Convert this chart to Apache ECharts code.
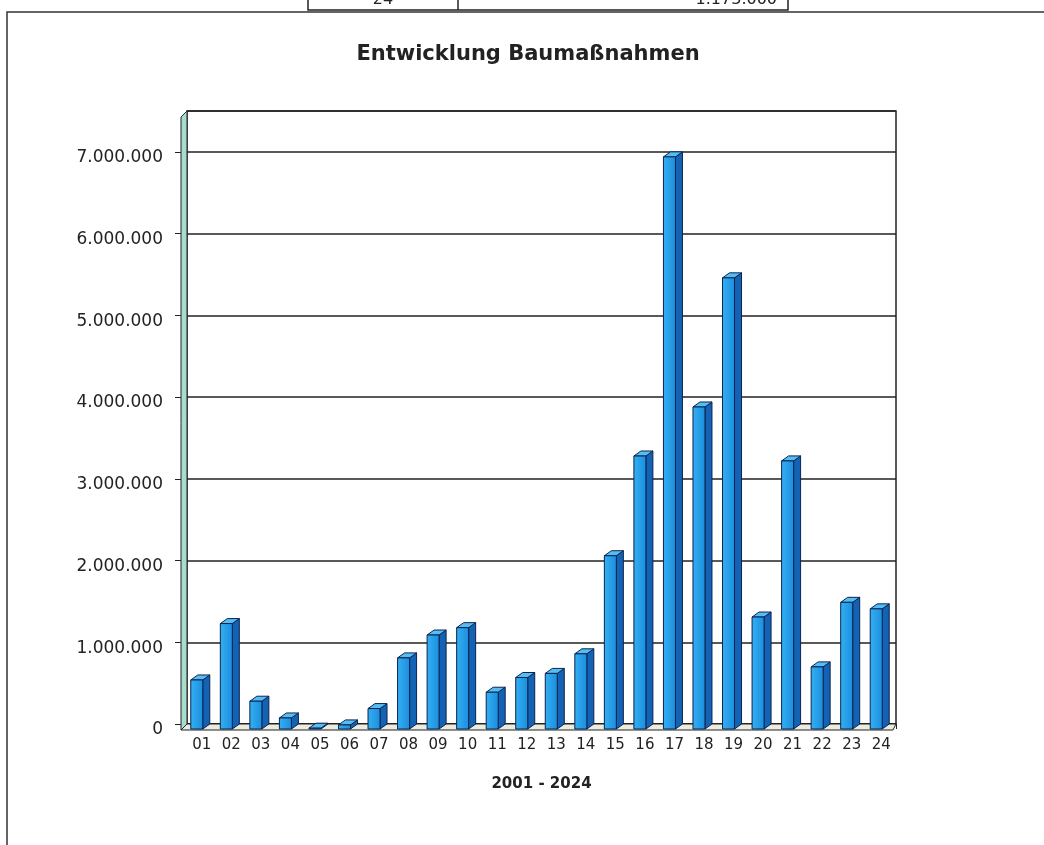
<!DOCTYPE html>
<html>
<head>
<meta charset="utf-8">
<script src="https://cdn.jsdelivr.net/npm/echarts@6/dist/echarts.min.js"></script>
<style>
html,body{margin:0;padding:0;background:#fff;}
#chart{width:1044px;height:845px;}
</style>
</head>
<body>
<div id="chart"></div>
<script>
var titleText = 'Entwicklung Baumaßnahmen';
var xAxisTitle = '2001 - 2024';
var categories = ['01','02','03','04','05','06','07','08','09','10','11','12','13','14','15','16','17','18','19','20','21','22','23','24'];
var values = [600000, 1290000, 340000, 135000, 10000, 50000, 250000, 870000, 1150000, 1240000, 450000, 630000, 680000, 920000, 2120000, 3340000, 7000000, 3940000, 5520000, 1370000, 3280000, 760000, 1550000, 1470000];
var yTicks = [0, 1000000, 2000000, 3000000, 4000000, 5000000, 6000000, 7000000];
var tableCells = ['24', '1.173.000'];

function fmt(v){ return String(v).replace(/\B(?=(\d{3})+(?!\d))/g, '.'); }

var chart = echarts.init(document.getElementById('chart'), null, {renderer:'canvas'});

var D = 5, DX = 7, FW = 12;

function renderItem(params, api){
  var cs = params.coordSys;
  var idx = api.value(0), v = api.value(1);
  var p = api.coord([idx, v]);
  var p0 = api.coord([idx, 0]);
  var cx = p[0];
  var fl = cx - FW + 1, fr = cx + 1;
  var ft = p[1] + D, fb = p0[1] + D;
  var children = [];
  if (params.dataIndex === 0) {
    children.push({type:'polygon', shape:{points:[[cs.x, p0[1]],[cs.x+cs.width, p0[1]],[cs.x+cs.width-3, p0[1]+D+1],[cs.x-6, p0[1]+D+1]]}, style:{fill:'#ecebe0', stroke:'#222', lineWidth:1}});
    children.push({type:'polygon', shape:{points:[[cs.x-6, cs.y+6],[cs.x, cs.y],[cs.x, p0[1]],[cs.x-6, p0[1]+6]]}, style:{fill:'#a8dccb', stroke:'#223', lineWidth:1}});
  }
  var line = '#0b2450';
  children.push({type:'polygon', shape:{points:[[fr, ft],[fr+DX, ft-D],[fr+DX, fb-D],[fr, fb]]}, style:{fill:'#1462b4', stroke:line, lineWidth:1}});
  children.push({type:'polygon', shape:{points:[[fl, ft],[fl+DX, ft-D],[fr+DX, ft-D],[fr, ft]]}, style:{fill:'#56bdf2', stroke:line, lineWidth:1}});
  children.push({type:'rect', shape:{x:fl, y:ft, width:FW, height:Math.max(fb-ft,0.5)}, style:{fill:new echarts.graphic.LinearGradient(0,0,1,0,[{offset:0,color:'#35b0f2'},{offset:1,color:'#1a8ede'}]), stroke:line, lineWidth:1}});
  return {type:'group', children:children};
}

var option = {
  backgroundColor:'#ffffff',
  animation:false,
  textStyle:{fontFamily:'DejaVu Sans'},
  grid:{left:187, right:148, top:111, bottom:121, show:true, borderColor:'#222', borderWidth:1.5, backgroundColor:'transparent'},
  xAxis:{
    type:'category', data:categories, offset:6,
    axisLine:{show:true, lineStyle:{color:'#222', width:1.5}},
    axisTick:{show:true, length:5, alignWithLabel:false, lineStyle:{color:'#222'}},
    axisLabel:{color:'#222', fontSize:15, fontFamily:'DejaVu Sans', margin:8, interval:0},
    name:xAxisTitle, nameLocation:'middle', nameGap:47,
    nameTextStyle:{color:'#222', fontSize:15, fontWeight:'bold', fontFamily:'DejaVu Sans'}
  },
  yAxis:{
    type:'value', min:0, max:7500000, interval:1000000, offset:6,
    axisLine:{show:false},
    axisTick:{show:true, length:6, lineStyle:{color:'#222'}},
    axisLabel:{color:'#222', fontSize:17, fontFamily:'DejaVu Sans', margin:18, showMaxLabel:false, verticalAlign:'top', lineHeight:12,
      formatter:function(v){ return yTicks.indexOf(v) >= 0 ? fmt(v) : ''; }},
    splitLine:{show:true, lineStyle:{color:'#222', width:1.5}}
  },
  graphic:[
    {type:'rect', shape:{x:7, y:12, width:1100, height:900}, style:{fill:'none', stroke:'#333', lineWidth:1.5}, silent:true, z:-1},
    {type:'rect', shape:{x:308, y:-20, width:480, height:30}, style:{fill:'#fff', stroke:'#222', lineWidth:1.5}, silent:true},
    {type:'line', shape:{x1:458, y1:-2, x2:458, y2:10}, style:{stroke:'#222', lineWidth:1.5}, silent:true},
    {type:'text', x:383, y:8, z:10, style:{text:tableCells[0], fill:'#222', font:'16px "DejaVu Sans"', textAlign:'center', textVerticalAlign:'bottom'}, silent:true},
    {type:'text', x:777, y:8, z:10, style:{text:tableCells[1], fill:'#222', font:'16px "DejaVu Sans"', textAlign:'right', textVerticalAlign:'bottom'}, silent:true},
    {type:'text', x:528, y:55, style:{text:titleText, fill:'#222', font:'bold 21px "DejaVu Sans"', textAlign:'center', textVerticalAlign:'middle'}, silent:true}
  ],
  series:[{
    type:'custom', renderItem:renderItem, clip:false,
    encode:{x:0, y:1},
    data:values.map(function(v,i){ return [categories[i], v]; })
  }]
};
chart.setOption(option);
</script>
</body>
</html>
